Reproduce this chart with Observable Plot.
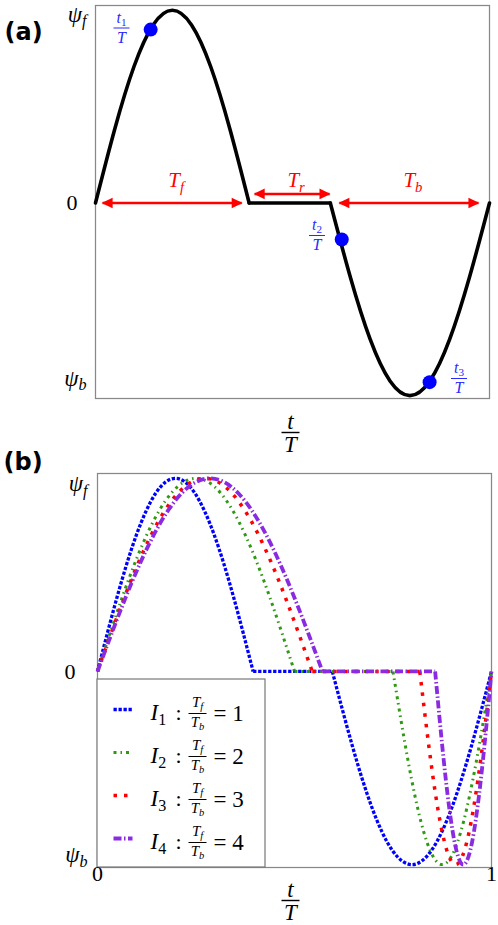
<!DOCTYPE html>
<html>
<head>
<meta charset="utf-8">
<script src="https://cdn.jsdelivr.net/npm/d3@7"></script>
<script src="https://cdn.jsdelivr.net/npm/@observablehq/plot@0.6"></script>
<style>
  html, body { margin: 0; padding: 0; background: #ffffff; }
  #chart { width: 498px; }
  #chart svg { display: block; overflow: visible; }
</style>
</head>
<body>
<div id="chart"></div>
<script>
// ---------------- data ----------------
const seriesNames   = ["I_1", "I_2", "I_3", "I_4"];
const ratioValues   = [1, 2, 3, 4];                 // T_f / T_b
const forwardEnd    = [0.395, 0.5, 0.545, 0.571];   // T_f (end of forward half-wave)
const backwardLen   = [0.404, 0.25, 0.182, 0.143];  // T_b (length of backward half-wave)
const halfWave      = [0, 0.383, 0.707, 0.924, 1, 0.924, 0.707, 0.383, 0]; // normalised half-wave profile
const panelATf      = 0.39;
const panelATb      = 0.404;
const markT         = [0.14, 0.625, 0.848];
const markPsi       = [0.9, -0.19, -0.93];
const markLabels    = ["t_1", "t_2", "t_3"];
const spanStart     = [0.018, 0.404, 0.619];
const spanEnd       = [0.371, 0.594, 0.972];
const spanLevel     = [0, 0.047, 0];
const spanLabels    = ["T_f", "T_r", "T_b"];
const yTickLabels   = ["ψ_f", "0", "ψ_b"];
const yTickValuesA  = [0.98, 0, -0.91];
const yTickValuesB  = [0.97, 0, -0.95];
const xTickValuesB  = [0, 1];

// ---------------- styles ----------------
const seriesStyles = [
  {stroke: "#0000ff", strokeWidth: 3.3, strokeDasharray: "3.3,1.7"},
  {stroke: "#2e9a12", strokeWidth: 3.0, strokeDasharray: "3,4,1.5,4"},
  {stroke: "#ff0000", strokeWidth: 3.5, strokeDasharray: "3.5,7"},
  {stroke: "#8a2be2", strokeWidth: 3.8, strokeDasharray: "8,2.5,1.5,2.5"}
];
const W = 498;
const yDom = [-1.015, 1.025];
const A = {h: 452, ml: 95, mr: 9, mt: 5, mb: 54, top: 0};
const B = {h: 473, ml: 97, mr: 7, mt: 21, mb: 58, top: 452};
const serif = "'Liberation Serif', 'Times New Roman', serif";
const baseStyle = {fontFamily: serif, fontSize: "20px", overflow: "visible", background: "transparent"};

// pixel (page) -> data helpers for annotation layout
function layout(L) {
  const iw = W - L.ml - L.mr, ih = L.h - L.mt - L.mb;
  return {
    X: p => (p - L.ml) / iw,
    Y: p => yDom[1] - (p - L.top - L.mt) / ih * (yDom[1] - yDom[0])
  };
}
const PA = layout(A), PB = layout(B);

function wavePoints(tf, tb) {
  const n = halfWave.length - 1;
  const rise = halfWave.map((v, i) => ({x: tf * i / n, y: v, seg: "rise"}));
  const dwell = [{x: tf, y: 0, seg: "dwell"}, {x: 1 - tb, y: 0, seg: "dwell"}];
  const fall = halfWave.map((v, i) => ({x: 1 - tb + tb * i / n, y: -v, seg: "fall"}));
  return [...rise, ...dwell, ...fall];
}

function frac(P, cx, cy, num, den, fs, color, barW, up, down) {
  return [
    Plot.text([num], {x: P.X(cx), y: P.Y(cy - up), text: d => d, fontSize: fs, fontStyle: "italic", fill: color, fontFamily: serif}),
    Plot.link([0], {x1: P.X(cx - barW / 2), x2: P.X(cx + barW / 2), y1: P.Y(cy), y2: P.Y(cy), stroke: color, strokeWidth: Math.max(1, fs / 16)}),
    Plot.text([den], {x: P.X(cx), y: P.Y(cy + down), text: d => d, fontSize: fs, fontStyle: "italic", fill: color, fontFamily: serif})
  ];
}

function subscripts(root) {
  const ns = "http://www.w3.org/2000/svg";
  root.querySelectorAll("text").forEach(t => {
    const s = t.textContent;
    if (!s.includes("_")) return;
    t.textContent = "";
    const parts = s.split(/_(\S)/);
    let shifted = false;
    parts.forEach((p, i) => {
      if (p === "") return;
      const ts = document.createElementNS(ns, "tspan");
      ts.textContent = p;
      if (i % 2) {
        ts.style.fontSize = "70%";
        ts.setAttribute("dy", "0.3em");
        if (/\d/.test(p)) ts.style.fontStyle = "normal";
        shifted = true;
      } else if (shifted) {
        ts.setAttribute("dy", "-0.21em");
        shifted = false;
      }
      t.appendChild(ts);
    });
  });
}

function solidArrowheads(root) {
  root.querySelectorAll("marker").forEach(m => {
    const c = m.getAttribute("stroke");
    m.setAttribute("fill", c);
    m.setAttribute("stroke", "none");
    m.setAttribute("overflow", "visible");
    const p = m.querySelector("path");
    if (p) p.setAttribute("d", "M-6,-3.2L0.6,0L-6,3.2Z");
  });
}

// ---------------- panel (a) ----------------
const idx3 = [0, 1, 2];
const chartA = Plot.plot({
  width: W, height: A.h,
  marginLeft: A.ml, marginRight: A.mr, marginTop: A.mt, marginBottom: A.mb,
  x: {domain: [0, 1], axis: null},
  y: {domain: yDom, axis: null},
  style: baseStyle,
  marks: [
    Plot.frame({stroke: "#888", strokeWidth: 1.25}),
    Plot.line(wavePoints(panelATf, panelATb), {x: "x", y: "y", z: "seg", curve: "natural", stroke: "black", strokeWidth: 3.6, strokeLinecap: "round", strokeLinejoin: "round"}),
    Plot.link(idx3, {x1: i => spanStart[i], x2: i => spanEnd[i], y1: i => spanLevel[i], y2: i => spanLevel[i], stroke: "#ff0000", strokeWidth: 2.5, markerStart: "arrow-reverse", markerEnd: "arrow"}),
    Plot.text(idx3, {x: i => (spanStart[i] + spanEnd[i]) / 2, y: PA.Y(180), dx: 4, text: i => spanLabels[i], fill: "#ff0000", fontSize: 21, fontStyle: "italic"}),
    Plot.dot(idx3, {x: i => markT[i], y: i => markPsi[i], r: 7, fill: "#0000ff", stroke: "none"}),
    ...frac(PA, 121, 27.5, markLabels[0], "T", 16, "#2a2aff", 16, 10.5, 9.5),
    ...frac(PA, 316.5, 235, markLabels[1], "T", 16, "#2a2aff", 16, 10.5, 9.5),
    ...frac(PA, 458.5, 378, markLabels[2], "T", 16, "#2a2aff", 16, 10.5, 9.5),
    Plot.text([0, 2], {frameAnchor: "left", y: i => yTickValuesA[i], dx: -9, text: i => yTickLabels[i], textAnchor: "end", fontSize: 23, fontStyle: "italic"}),
    Plot.text([1], {frameAnchor: "left", y: i => yTickValuesA[i], dx: -18, text: i => yTickLabels[i], textAnchor: "end", fontSize: 22}),
    ...frac(PA, 290, 432, "t", "T", 23, "black", 18, 11, 12),
    Plot.text(["(a)"], {frameAnchor: "top-left", dx: -91, dy: 17, text: d => d, textAnchor: "start", fontFamily: "'DejaVu Sans', sans-serif", fontWeight: "bold", fontSize: 24})
  ]
});

// ---------------- panel (b) ----------------
const idx4 = [0, 1, 2, 3];
const rowY = i => 709 + i * 43;
const legendMarks = [
  Plot.rect([0], {x1: 0, x2: PB.X(265), y1: yDom[0], y2: PB.Y(679), fill: "white", stroke: "#777", strokeWidth: 1.2}),
  ...idx4.map(i => Plot.link([0], {x1: PB.X(113), x2: PB.X(132), y1: PB.Y(rowY(i)), y2: PB.Y(rowY(i)), ...seriesStyles[i]})),
  Plot.text(idx4, {x: PB.X(150), y: i => PB.Y(rowY(i) + 3.5), text: i => seriesNames[i], textAnchor: "start", fontStyle: "italic", fontSize: 23}),
  Plot.text(idx4, {x: PB.X(178), y: i => PB.Y(rowY(i) + 3), text: () => ":", fontSize: 22}),
  Plot.text(idx4, {x: PB.X(197), y: i => PB.Y(rowY(i) - 7), text: () => "T_f", fontSize: 15, fontStyle: "italic"}),
  Plot.link(idx4, {x1: PB.X(188), x2: PB.X(206), y1: i => PB.Y(rowY(i) + 4), y2: i => PB.Y(rowY(i) + 4), stroke: "black", strokeWidth: 1}),
  Plot.text(idx4, {x: PB.X(197), y: i => PB.Y(rowY(i) + 12.5), text: () => "T_b", fontSize: 15, fontStyle: "italic"}),
  Plot.text(idx4, {x: PB.X(213), y: i => PB.Y(rowY(i) + 4), text: i => "= " + ratioValues[i], textAnchor: "start", fontSize: 23})
];

const chartB = Plot.plot({
  width: W, height: B.h,
  marginLeft: B.ml, marginRight: B.mr, marginTop: B.mt, marginBottom: B.mb,
  x: {domain: [0, 1], axis: null},
  y: {domain: yDom, axis: null},
  style: baseStyle,
  marks: [
    Plot.frame({stroke: "#888", strokeWidth: 1.25}),
    ...idx4.map(i => Plot.line(wavePoints(forwardEnd[i], backwardLen[i]), {x: "x", y: "y", z: "seg", curve: "natural", strokeLinecap: "butt", ...seriesStyles[i]})),
    ...legendMarks,
    Plot.text([0, 2], {frameAnchor: "left", y: i => yTickValuesB[i], dx: -10, text: i => yTickLabels[i], textAnchor: "end", fontSize: 23, fontStyle: "italic"}),
    Plot.text([1], {frameAnchor: "left", y: i => yTickValuesB[i], dx: -22, text: i => yTickLabels[i], textAnchor: "end", fontSize: 22}),
    Plot.text(xTickValuesB, {x: d => d, frameAnchor: "bottom", dy: 13, text: d => String(d), fontSize: 22}),
    ...frac(PB, 290, 900, "t", "T", 23, "black", 18, 11, 12),
    Plot.text(["(b)"], {frameAnchor: "top-left", dx: -94, dy: -20.7, text: d => d, textAnchor: "start", fontFamily: "'DejaVu Sans', sans-serif", fontWeight: "bold", fontSize: 24})
  ]
});

[chartA, chartB].forEach(c => { subscripts(c); solidArrowheads(c); document.getElementById("chart").appendChild(c); });
</script>
</body>
</html>
